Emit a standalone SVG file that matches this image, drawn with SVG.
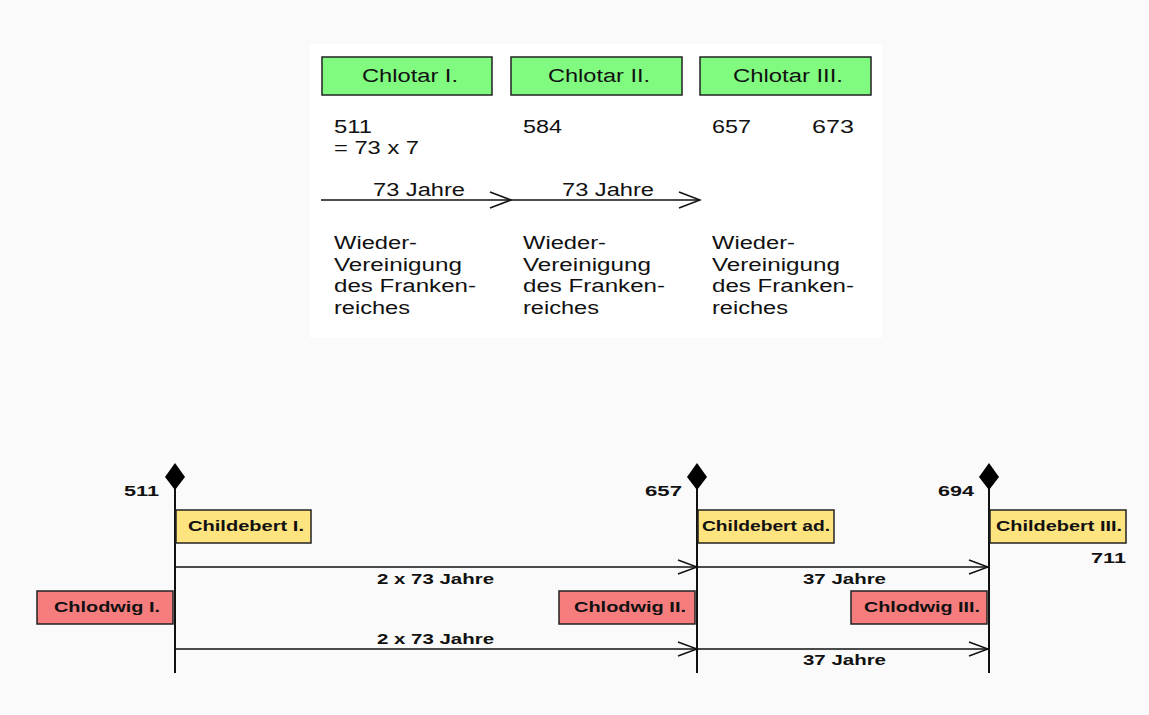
<svg xmlns="http://www.w3.org/2000/svg" width="1149" height="715" viewBox="0 0 1149 715">
<defs>
<style>
.t{font-family:"Liberation Sans",Arial,sans-serif;font-size:18px;fill:#111}
.b{font-family:"Liberation Sans",Arial,sans-serif;font-size:15px;font-weight:bold;fill:#111}
.g{fill:#80fb80;stroke:#222;stroke-width:1.5}
.y{fill:#fde47f;stroke:#222;stroke-width:1.5}
.r{fill:#f57d7d;stroke:#222;stroke-width:1.5}
.ln{stroke:#111;stroke-width:1.5;fill:none}
.ax{stroke:#111;stroke-width:2;fill:none}
</style>
<marker id="oa2" markerWidth="24" markerHeight="18" refX="22" refY="9" orient="auto" markerUnits="userSpaceOnUse">
<path d="M1,1 L22,9 L1,17" fill="none" stroke="#111" stroke-width="1.5"/>
</marker>
<marker id="oa3" markerWidth="22" markerHeight="16" refX="20" refY="8" orient="auto" markerUnits="userSpaceOnUse">
<path d="M1,1 L20,8 L1,15" fill="none" stroke="#111" stroke-width="1.5"/>
</marker>
</defs>
<rect width="1149" height="715" fill="#fafafa"/>
<rect x="310" y="44" width="572" height="294" fill="#ffffff"/>

<g id="chlotar1"><rect class="g" x="322" y="57" width="170" height="38"/><text class="t" x="362" y="82" textLength="96" lengthAdjust="spacingAndGlyphs">Chlotar I.</text></g>
<g id="chlotar2"><rect class="g" x="511" y="57" width="171" height="38"/><text class="t" x="548" y="82" textLength="102" lengthAdjust="spacingAndGlyphs">Chlotar II.</text></g>
<g id="chlotar3"><rect class="g" x="700" y="57" width="171" height="38"/><text class="t" x="733" y="82" textLength="110" lengthAdjust="spacingAndGlyphs">Chlotar III.</text></g>

<g id="years-top">
<text class="t" x="334" y="133" textLength="38" lengthAdjust="spacingAndGlyphs">511</text>
<text class="t" x="334" y="154" textLength="85" lengthAdjust="spacingAndGlyphs">= 73 x 7</text>
<text class="t" x="523" y="133" textLength="39" lengthAdjust="spacingAndGlyphs">584</text>
<text class="t" x="712" y="133" textLength="39" lengthAdjust="spacingAndGlyphs">657</text>
<text class="t" x="812" y="133" textLength="42" lengthAdjust="spacingAndGlyphs">673</text>
</g>

<g id="desc1"><text class="t" x="334" y="249" textLength="83" lengthAdjust="spacingAndGlyphs">Wieder-</text><text class="t" x="334" y="271" textLength="128" lengthAdjust="spacingAndGlyphs">Vereinigung</text><text class="t" x="334" y="292" textLength="142" lengthAdjust="spacingAndGlyphs">des Franken-</text><text class="t" x="334" y="314" textLength="76" lengthAdjust="spacingAndGlyphs">reiches</text></g>
<g id="desc2"><text class="t" x="523" y="249" textLength="83" lengthAdjust="spacingAndGlyphs">Wieder-</text><text class="t" x="523" y="271" textLength="128" lengthAdjust="spacingAndGlyphs">Vereinigung</text><text class="t" x="523" y="292" textLength="142" lengthAdjust="spacingAndGlyphs">des Franken-</text><text class="t" x="523" y="314" textLength="76" lengthAdjust="spacingAndGlyphs">reiches</text></g>
<g id="desc3"><text class="t" x="712" y="249" textLength="83" lengthAdjust="spacingAndGlyphs">Wieder-</text><text class="t" x="712" y="271" textLength="128" lengthAdjust="spacingAndGlyphs">Vereinigung</text><text class="t" x="712" y="292" textLength="142" lengthAdjust="spacingAndGlyphs">des Franken-</text><text class="t" x="712" y="314" textLength="76" lengthAdjust="spacingAndGlyphs">reiches</text></g>

<g id="axis511">
<line class="ax" x1="175" y1="480" x2="175" y2="673"/>
<path d="M175,463 L185,477 L175,490 L165,477 Z" fill="#000"/>
<text class="b" x="124" y="496" textLength="35" lengthAdjust="spacingAndGlyphs">511</text>
</g>
<g id="axis657">
<line class="ax" x1="697" y1="480" x2="697" y2="673"/>
<path d="M697,463 L707,477 L697,490 L687,477 Z" fill="#000"/>
<text class="b" x="645" y="496" textLength="37" lengthAdjust="spacingAndGlyphs">657</text>
</g>
<g id="axis694">
<line class="ax" x1="989" y1="480" x2="989" y2="673"/>
<path d="M989,463 L999,477 L989,490 L979,477 Z" fill="#000"/>
<text class="b" x="938" y="496" textLength="36" lengthAdjust="spacingAndGlyphs">694</text>
<text class="b" x="1091" y="563" textLength="35" lengthAdjust="spacingAndGlyphs">711</text>
</g>

<g id="childebert1"><rect class="y" x="176" y="510" width="135" height="33"/><text class="b" x="188" y="531" textLength="116" lengthAdjust="spacingAndGlyphs">Childebert I.</text></g>
<g id="childebertad"><rect class="y" x="698" y="510" width="136" height="33"/><text class="b" x="702" y="531" textLength="128" lengthAdjust="spacingAndGlyphs">Childebert ad.</text></g>
<g id="childebert3"><rect class="y" x="990" y="510" width="136" height="33"/><text class="b" x="996" y="531" textLength="126" lengthAdjust="spacingAndGlyphs">Childebert III.</text></g>

<g id="chlodwig1"><rect class="r" x="37" y="591" width="136" height="33"/><text class="b" x="54" y="612" textLength="106" lengthAdjust="spacingAndGlyphs">Chlodwig I.</text></g>
<g id="chlodwig2"><rect class="r" x="559" y="591" width="136" height="33"/><text class="b" x="574" y="612" textLength="112" lengthAdjust="spacingAndGlyphs">Chlodwig II.</text></g>
<g id="chlodwig3"><rect class="r" x="851" y="591" width="136" height="33"/><text class="b" x="864" y="612" textLength="116" lengthAdjust="spacingAndGlyphs">Chlodwig III.</text></g>

<g id="connectors">
<line class="ln" x1="321" y1="200" x2="511" y2="200" marker-end="url(#oa2)"/>
<line class="ln" x1="511" y1="200" x2="700" y2="200" marker-end="url(#oa2)"/>
<line class="ln" x1="176" y1="567" x2="697" y2="567" marker-end="url(#oa3)"/>
<line class="ln" x1="698" y1="567" x2="988" y2="567" marker-end="url(#oa3)"/>
<line class="ln" x1="176" y1="649" x2="697" y2="649" marker-end="url(#oa3)"/>
<line class="ln" x1="698" y1="649" x2="988" y2="649" marker-end="url(#oa3)"/>
<text class="t" x="373" y="196" textLength="92" lengthAdjust="spacingAndGlyphs">73 Jahre</text>
<text class="t" x="562" y="196" textLength="92" lengthAdjust="spacingAndGlyphs">73 Jahre</text>
<text class="b" x="377" y="584" textLength="117" lengthAdjust="spacingAndGlyphs">2 x 73 Jahre</text>
<text class="b" x="377" y="644" textLength="117" lengthAdjust="spacingAndGlyphs">2 x 73 Jahre</text>
<text class="b" x="803" y="584" textLength="83" lengthAdjust="spacingAndGlyphs">37 Jahre</text>
<text class="b" x="803" y="665" textLength="83" lengthAdjust="spacingAndGlyphs">37 Jahre</text>
</g>
</svg>
